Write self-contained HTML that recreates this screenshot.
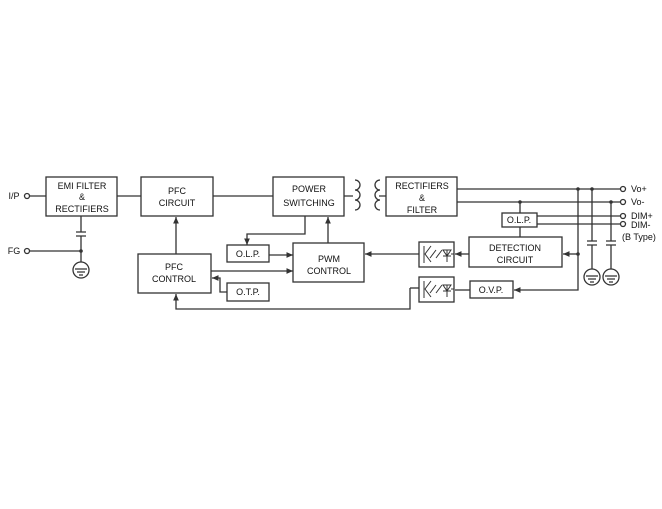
<!DOCTYPE html>
<html><head><style>body{margin:0;background:#fff}svg{display:block}text{font-family:"Liberation Sans",sans-serif;font-size:9px;fill:#111;text-anchor:middle;font-weight:500}</style></head><body>
<svg width="662" height="509" viewBox="0 0 662 509">
<defs><marker id="a" markerWidth="6" markerHeight="6" refX="5" refY="3" orient="auto"><path d="M0,0.8 L5,3 L0,5.2z" fill="#333"/></marker></defs>
<g fill="none" stroke="#333" stroke-width="1.3">
<rect x="46" y="177" width="71" height="39"/>
<rect x="141" y="177" width="72" height="39"/>
<rect x="273" y="177" width="71" height="39"/>
<rect x="386" y="177" width="71" height="39"/>
<rect x="138" y="254" width="73" height="39"/>
<rect x="227" y="245" width="42" height="17"/>
<rect x="227" y="283" width="42" height="18"/>
<rect x="293" y="243" width="71" height="39"/>
<rect x="502" y="213" width="35" height="14"/>
<rect x="469" y="237" width="93" height="30"/>
<rect x="470" y="281" width="43" height="17"/>
<rect x="419" y="242" width="35" height="25"/>
<rect x="419" y="277" width="35" height="25"/>
<circle cx="27" cy="196" r="2.5"/><circle cx="27" cy="251" r="2.5"/>
<path d="M30,196H46M117,196H141M213,196H273M81,216V232M76,232H86M76,236H86M81,236V251M30,251H81V262"/>
<circle cx="81" cy="270" r="8"/><path d="M75,269H87M77,272H85M79,275H83"/>
<path d="M176,254V217" marker-end="url(#a)"/>
<path d="M305,216V234H247V245" marker-end="url(#a)"/>
<path d="M269,255H293" marker-end="url(#a)"/>
<path d="M211,271H293" marker-end="url(#a)"/>
<path d="M328,243V217" marker-end="url(#a)"/>
<path d="M227,292H220V278H212" marker-end="url(#a)"/>
<path d="M410,288V309H176V294" marker-end="url(#a)"/>
<path d="M410,288H419"/>
<path d="M344,196H353M379,196H386"/>
<path d="M355,180a5,5 0 1 1 0,10a5,5 0 1 1 0,10a5,5 0 1 1 0,10"/>
<path d="M380,180a5,5 0 1 0 0,10a5,5 0 1 0 0,10a5,5 0 1 0 0,10"/>
<path d="M457,189H620M457,202H620M537,216H620M537,224H620"/>
<circle cx="623" cy="189" r="2.5"/><circle cx="623" cy="202" r="2.5"/><circle cx="623" cy="216" r="2.5"/><circle cx="623" cy="224" r="2.5"/>
<path d="M520,202V213M520,227V237"/>
<path d="M578,189V290H514" marker-end="url(#a)"/>
<path d="M578,254H563" marker-end="url(#a)"/>
<path d="M469,254H455" marker-end="url(#a)"/>
<path d="M470,290H455"/>
<path d="M419,254H365" marker-end="url(#a)"/>
<path d="M592,189V241M587,241H597M587,245H597M592,245V269M611,202V241M606,241H616M606,245H616M611,245V269"/>
<circle cx="592" cy="277" r="8"/><circle cx="611" cy="277" r="8"/>
<path d="M586,276H598M588,279H596M590,282H594M605,276H617M607,279H615M609,282H613"/>
<g stroke-width="1"><path d="M424,246V263M431,246L425,254L431,262M436,250L430,258M442,250L436,258M447,250V262M443,250H451L447,256ZM443,256H451M454,254H451M424,281V298M431,281L425,289L431,297M436,285L430,293M442,285L436,293M447,285V297M443,285H451L447,291ZM443,291H451M454,289H451"/></g>
</g>
<g fill="#333"><circle cx="81" cy="251" r="1.8"/><circle cx="578" cy="189" r="1.8"/><circle cx="592" cy="189" r="1.8"/><circle cx="611" cy="202" r="1.8"/><circle cx="520" cy="202" r="1.8"/><circle cx="578" cy="254" r="1.8"/></g>
<text x="14" y="199">I/P</text><text x="14" y="254">FG</text>
<text x="82" y="189">EMI FILTER</text><text x="82" y="200">&amp;</text><text x="82" y="212">RECTIFIERS</text>
<text x="177" y="194">PFC</text><text x="177" y="206">CIRCUIT</text>
<text x="309" y="192">POWER</text><text x="309" y="206">SWITCHING</text>
<text x="422" y="189">RECTIFIERS</text><text x="422" y="201">&amp;</text><text x="422" y="213">FILTER</text>
<text x="174" y="270">PFC</text><text x="174" y="282">CONTROL</text>
<text x="248" y="257">O.L.P.</text><text x="248" y="295">O.T.P.</text>
<text x="329" y="262">PWM</text><text x="329" y="274">CONTROL</text>
<text x="519" y="223">O.L.P.</text>
<text x="515" y="251">DETECTION</text><text x="515" y="263">CIRCUIT</text>
<text x="491" y="293">O.V.P.</text>
<text x="631" y="192" style="text-anchor:start">Vo+</text><text x="631" y="205" style="text-anchor:start">Vo-</text><text x="631" y="219" style="text-anchor:start">DIM+</text><text x="631" y="228" style="text-anchor:start">DIM-</text><text x="622" y="240" style="text-anchor:start">(B Type)</text>
</svg>
</body></html>
